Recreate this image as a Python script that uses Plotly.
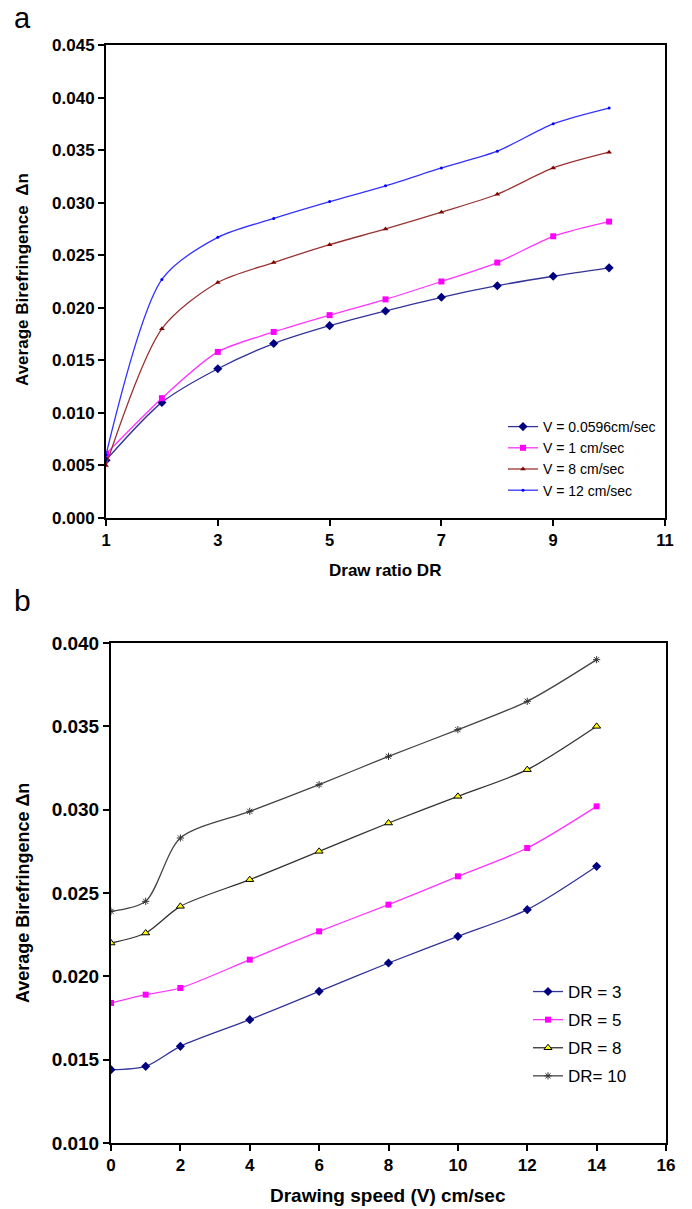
import plotly.graph_objects as go

# ---- Panel a data ----
dr = [1, 2, 3, 4, 5, 6, 7, 8, 9, 10]
v_0596 = [0.0055, 0.0110, 0.0142, 0.0166, 0.0183, 0.0197, 0.0210, 0.0221, 0.0230, 0.0238]
v_1 = [0.0061, 0.0114, 0.0158, 0.0177, 0.0193, 0.0208, 0.0225, 0.0243, 0.0268, 0.0282]
v_8 = [0.0050, 0.0180, 0.0224, 0.0243, 0.0260, 0.0275, 0.0291, 0.0308, 0.0333, 0.0348]
v_12 = [0.0060, 0.0227, 0.0267, 0.0285, 0.0301, 0.0316, 0.0333, 0.0349, 0.0375, 0.0390]
names_a = ["V = 0.0596cm/sec", "V = 1 cm/sec", "V = 8 cm/sec", "V = 12 cm/sec"]

# ---- Panel b data ----
speed = [0, 1, 2, 4, 6, 8, 10, 12, 14]
dr_3 = [0.0144, 0.0146, 0.0158, 0.0174, 0.0191, 0.0208, 0.0224, 0.0240, 0.0266]
dr_5 = [0.0184, 0.0189, 0.0193, 0.0210, 0.0227, 0.0243, 0.0260, 0.0277, 0.0302]
dr_8 = [0.0220, 0.0226, 0.0242, 0.0258, 0.0275, 0.0292, 0.0308, 0.0324, 0.0350]
dr_10 = [0.0239, 0.0245, 0.0283, 0.0299, 0.0315, 0.0332, 0.0348, 0.0365, 0.0390]
names_b = ["DR = 3", "DR = 5", "DR = 8", "DR= 10"]

FW, FH = 692, 1209
FONT = "Liberation Sans, Arial, sans-serif"


def PX(x):
    return x / FW


def PY(y):
    return 1 - y / FH


fig = go.Figure()


def add(x, y, name, xa, ya, legend, group, lcolor, msym, mcolor, msize, mline=None):
    fig.add_trace(go.Scatter(
        x=x, y=y, name=name, mode="lines+markers", xaxis=xa, yaxis=ya, legend=legend,
        legendgroup=group,
        line=dict(color=lcolor, width=1.3, shape="spline", smoothing=0.8),
        marker=dict(symbol=msym, color=mcolor, size=msize,
                    line=mline if mline else dict(width=0, color=mcolor)),
    ))


add(dr, v_0596, names_a[0], "x", "y", "legend", "a1", "#333399", "diamond", "#000080", 7)
add(dr, v_1, names_a[1], "x", "y", "legend", "a2", "#ff33ff", "square", "#ff00ff", 6)
add(dr, v_8, names_a[2], "x", "y", "legend", "a3", "#993333", "triangle-up", "#800000", 5)
add(dr, v_12, names_a[3], "x", "y", "legend", "a4", "#3333ff", "circle", "#0000ff", 3)

add(speed, dr_3, names_b[0], "x2", "y2", "legend2", "b1", "#333399", "diamond", "#000080", 7)
add(speed, dr_5, names_b[1], "x2", "y2", "legend2", "b2", "#ff33ff", "square", "#ff00ff", 6)
add(speed, dr_8, names_b[2], "x2", "y2", "legend2", "b3", "#333333", "triangle-up", "#ffff00", 7,
    dict(width=1, color="#000000"))
add(speed, dr_10, names_b[3], "x2", "y2", "legend2", "b4", "#444444", "asterisk-open", "#333333", 6,
    dict(width=1, color="#333333"))

# plot areas in reference pixels
ax_a = dict(x0=106, x1=665, top=45, bot=518)
ax_b = dict(x0=111, x1=666, top=643, bot=1143)

axis_common = dict(showline=True, linecolor="black", linewidth=2, mirror=True,
                   ticks="outside", ticklen=6, tickwidth=2, tickcolor="black",
                   showgrid=False, zeroline=False, automargin=False)

fig.update_layout(
    width=FW, height=FH, paper_bgcolor="white", plot_bgcolor="white",
    margin=dict(l=0, r=0, t=0, b=0, autoexpand=False),
    font=dict(family=FONT, color="black"),
    xaxis=dict(domain=[PX(ax_a["x0"]), PX(ax_a["x1"])], range=[1, 11], tickvals=[1, 3, 5, 7, 9, 11],
               tickfont=dict(size=16.5, weight="bold"), anchor="y", **axis_common),
    yaxis=dict(domain=[PY(ax_a["bot"]), PY(ax_a["top"])], range=[0, 0.045], dtick=0.005, tick0=0,
               tickformat=".3f", tickfont=dict(size=17, weight="bold"), anchor="x", **axis_common),
    xaxis2=dict(domain=[PX(ax_b["x0"]), PX(ax_b["x1"])], range=[0, 16], dtick=2, tick0=0,
                tickfont=dict(size=17, weight="bold"), anchor="y2", **axis_common),
    yaxis2=dict(domain=[PY(ax_b["bot"]), PY(ax_b["top"])], range=[0.010, 0.040], dtick=0.005,
                tick0=0.010, tickformat=".3f", tickfont=dict(size=19, weight="bold"),
                anchor="x2", **axis_common),
    legend=dict(x=PX(503), y=PY(411), xanchor="left", yanchor="top",
                bgcolor="rgba(0,0,0,0)", font=dict(size=14), itemwidth=30,
                traceorder="grouped", tracegroupgap=0),
    legend2=dict(x=PX(528), y=PY(974), xanchor="left", yanchor="top",
                 bgcolor="rgba(0,0,0,0)", font=dict(size=17), itemwidth=30,
                 traceorder="grouped", tracegroupgap=3),
    showlegend=True,
)

annotations = [
    dict(text="a", x=PX(12), y=1, xref="paper", yref="paper", xanchor="left", yanchor="top",
         showarrow=False, font=dict(size=29)),
    dict(text="b", x=PX(12), y=PY(601), xref="paper", yref="paper", xanchor="left", yanchor="middle",
         showarrow=False, font=dict(size=30)),
    dict(text="Average Birefringence  Δn", x=PX(23), y=PY(280), xref="paper", yref="paper",
         xanchor="center", yanchor="middle", textangle=-90, showarrow=False,
         font=dict(size=17, weight="bold")),
    dict(text="Draw ratio DR", x=PX(385), y=PY(570), xref="paper", yref="paper",
         xanchor="center", yanchor="middle", showarrow=False, font=dict(size=17, weight="bold")),
    dict(text="Average Birefringence Δn", x=PX(23), y=PY(893), xref="paper", yref="paper",
         xanchor="center", yanchor="middle", textangle=-90, showarrow=False,
         font=dict(size=18, weight="bold")),
    dict(text="Drawing speed (V) cm/sec", x=PX(388), y=PY(1195), xref="paper", yref="paper",
         xanchor="center", yanchor="middle", showarrow=False, font=dict(size=19, weight="bold")),
]
fig.update_layout(annotations=annotations)

fig.write_html("out.html", config={"displayModeBar": False},
               post_script="document.body.style.margin='0';document.documentElement.style.margin='0';")
